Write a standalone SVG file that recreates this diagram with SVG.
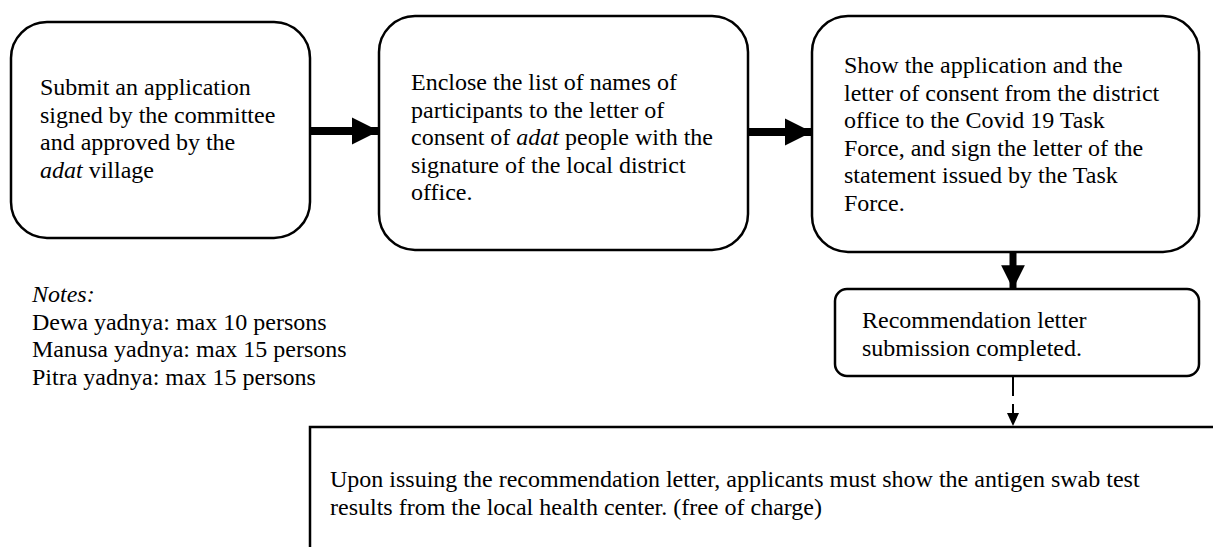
<svg xmlns="http://www.w3.org/2000/svg" width="1213" height="547" viewBox="0 0 1213 547">
<style>
.box{fill:#fff;stroke:#000;stroke-width:2.5}
.t{font-family:"Liberation Serif","Times New Roman",serif;font-size:24px;fill:#000}
.i{font-style:italic}
.conn{stroke:#000;fill:none}
</style>
<defs>
<marker id="bigArrow" markerWidth="3.4" markerHeight="3.4" refX="3.4" refY="1.7" orient="auto" markerUnits="strokeWidth">
<path d="M0,0 L3.4,1.7 L0,3.4 Z" fill="#000"/>
</marker>
</defs>
<rect width="1213" height="547" fill="#fff"/>
<g id="node-submit">
<rect class="box" x="11" y="22" width="299" height="216" rx="36" ry="36"/>
<text class="t" x="40" y="95">Submit an application</text>
<text class="t" x="40" y="122.6">signed by the committee</text>
<text class="t" x="40" y="150.2">and approved by the</text>
<text class="t" x="40" y="177.8"><tspan class="i">adat</tspan> village</text>
</g>
<g id="node-enclose">
<rect class="box" x="379" y="16" width="369" height="234" rx="36" ry="36"/>
<text class="t" x="411" y="90">Enclose the list of names of</text>
<text class="t" x="411" y="117.6">participants to the letter of</text>
<text class="t" x="411" y="145.2">consent of <tspan class="i">adat</tspan> people with the</text>
<text class="t" x="411" y="172.8">signature of the local district</text>
<text class="t" x="411" y="200.4">office.</text>
</g>
<g id="node-show">
<rect class="box" x="812" y="16" width="387" height="236" rx="36" ry="36"/>
<text class="t" x="844" y="73">Show the application and the</text>
<text class="t" x="844" y="100.6">letter of consent from the district</text>
<text class="t" x="844" y="128.2">office to the Covid 19 Task</text>
<text class="t" x="844" y="155.8">Force, and sign the letter of the</text>
<text class="t" x="844" y="183.4">statement issued by the Task</text>
<text class="t" x="844" y="211">Force.</text>
</g>
<g id="node-completed">
<rect class="box" x="835" y="289" width="364" height="87" rx="12" ry="12"/>
<text class="t" x="862" y="328">Recommendation letter</text>
<text class="t" x="862" y="355.6">submission completed.</text>
</g>
<g id="node-notes">
<text class="t i" x="32" y="302">Notes:</text>
<text class="t" x="32" y="329.6">Dewa yadnya: max 10 persons</text>
<text class="t" x="32" y="357.2">Manusa yadnya: max 15 persons</text>
<text class="t" x="32" y="384.8">Pitra yadnya: max 15 persons</text>
</g>
<g id="node-swab">
<path d="M310,547 L310,427 L1213,427" fill="none" stroke="#000" stroke-width="2.5"/>
<text class="t" x="330" y="487">Upon issuing the recommendation letter, applicants must show the antigen swab test</text>
<text class="t" x="330" y="514.6">results from the local health center. (free of charge)</text>
</g>
<g id="connectors">
<line class="conn" x1="311" y1="131" x2="379" y2="131" stroke-width="8" marker-end="url(#bigArrow)"/>
<line class="conn" x1="749" y1="132" x2="812" y2="132" stroke-width="8" marker-end="url(#bigArrow)"/>
<line class="conn" x1="1013" y1="253" x2="1013" y2="289" stroke-width="7" marker-end="url(#bigArrow)"/>
<line class="conn" x1="1013" y1="377" x2="1013" y2="396" stroke-width="2"/>
<line class="conn" x1="1013" y1="404" x2="1013" y2="415" stroke-width="2"/>
<path d="M1007,413 L1019,413 L1013,426 Z" fill="#000"/>
</g>
</svg>
